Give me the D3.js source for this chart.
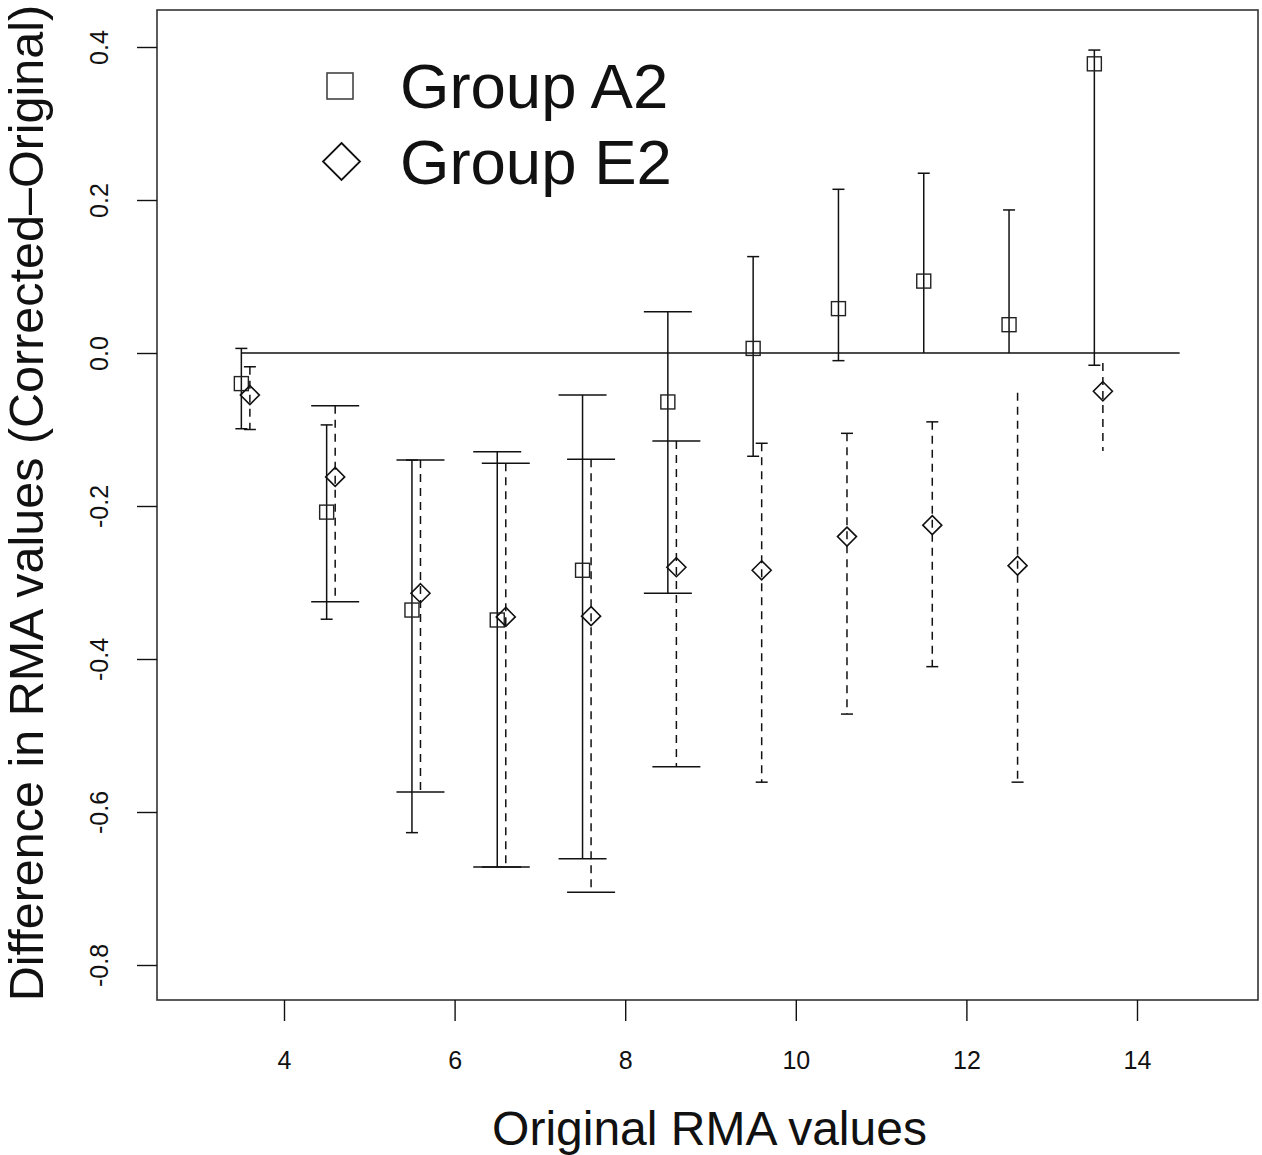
<!DOCTYPE html>
<html lang="en">
<head>
    <meta charset="UTF-8">
    <title>Difference in RMA values</title>
    <script src="https://d3js.org/d3.v7.min.js"></script>
    <style>
        body { margin: 0; background: #fff; }
        svg { font-family: "Liberation Sans", Arial, sans-serif; display: block; }
    </style>
</head>
<body>
    <div id="chart"></div>

    <script>
        // Group A2 (squares, solid bars)
        var xA2     = [3.5, 4.5, 5.5, 6.5, 7.5, 8.5, 9.5, 10.5, 11.5, 12.5, 13.5];
        var meanA2  = [-0.040, -0.208, -0.336, -0.349, -0.284, -0.064, 0.006, 0.058, 0.094, 0.037, 0.378];
        var upA2    = [0.006, -0.094, -0.140, -0.129, -0.055, 0.054, 0.126, 0.214, 0.235, 0.187, 0.396];
        var loA2    = [-0.099, -0.348, -0.627, -0.672, -0.661, -0.314, -0.135, -0.010, 0.000, 0.000, -0.016];
        // cap kind at each end: 0 none, 1 short, 2 long
        var capUpA2 = [1, 1, 1, 2, 2, 2, 1, 1, 1, 1, 1];
        var capLoA2 = [1, 1, 1, 2, 2, 2, 1, 1, 0, 0, 1];

        // Group E2 (diamonds, dashed bars)
        var xE2     = [3.6, 4.6, 5.6, 6.6, 7.6, 8.6, 9.6, 10.6, 11.6, 12.6, 13.6];
        var meanE2  = [-0.055, -0.162, -0.314, -0.345, -0.344, -0.280, -0.284, -0.240, -0.225, -0.278, -0.050];
        var upE2    = [-0.018, -0.069, -0.140, -0.144, -0.139, -0.115, -0.118, -0.105, -0.090, -0.052, -0.013];
        var loE2    = [-0.100, -0.325, -0.574, -0.672, -0.705, -0.541, -0.561, -0.472, -0.410, -0.561, -0.128];
        var capUpE2 = [1, 2, 2, 2, 2, 2, 1, 1, 1, 0, 0];
        var capLoE2 = [1, 2, 2, 2, 2, 2, 1, 1, 1, 1, 0];

        var xTicks = [4, 6, 8, 10, 12, 14];
        var yTicks = [0.4, 0.2, 0.0, -0.2, -0.4, -0.6, -0.8];
        var refLine = [3.5, 14.5];
        var legendLabels = ['Group A2', 'Group E2'];

        var W = 1262, H = 1155;
        var box = {left: 157, right: 1258, top: 10, bottom: 1000};
        var ink = '#111';

        var svg = d3.select('#chart').append('svg')
            .attr('width', W)
            .attr('height', H);

        var x = d3.scaleLinear().domain([4, 14]).range([284, 1137]);
        var y = d3.scaleLinear().domain([0.4, -0.8]).range([47, 965]);

        // plot frame
        svg.append('rect')
           .attr('x', box.left).attr('y', box.top)
           .attr('width', box.right - box.left)
           .attr('height', box.bottom - box.top)
           .attr('fill', 'none')
           .attr('stroke', '#333')
           .attr('stroke-width', 1.6);

        // x axis
        var xAxis = svg.append('g')
           .attr('transform', 'translate(0,' + box.bottom + ')')
           .call(d3.axisBottom(x).tickValues(xTicks).tickSize(21).tickPadding(30).tickFormat(d3.format('d')));
        xAxis.select('.domain').remove();
        xAxis.selectAll('line').attr('stroke', ink).attr('stroke-width', 1.4);
        xAxis.selectAll('text').attr('font-size', 25).attr('fill', ink)
             .attr('font-family', '"Liberation Sans", Arial, sans-serif');

        // y axis (labels rotated like R default)
        var yAxis = svg.append('g')
           .attr('transform', 'translate(' + box.left + ',0)')
           .call(d3.axisLeft(y).tickValues(yTicks).tickSize(20).tickFormat(d3.format('.1f')));
        yAxis.select('.domain').remove();
        yAxis.selectAll('line').attr('stroke', ink).attr('stroke-width', 1.4);
        yAxis.selectAll('text')
             .attr('font-size', 25).attr('fill', ink)
             .attr('font-family', '"Liberation Sans", Arial, sans-serif')
             .attr('x', null).attr('dy', null)
             .attr('text-anchor', 'middle')
             .attr('transform', 'translate(-49,0) rotate(-90)')
             .text(function(d) { return d3.format('.1f')(d).replace('\u2212', '-'); });

        // axis titles
        svg.append('text')
           .attr('x', (box.left + W) / 2).attr('y', 1145)
           .attr('text-anchor', 'middle')
           .attr('font-size', 48).attr('fill', ink)
           .text('Original RMA values');

        svg.append('text')
           .attr('transform', 'translate(43,' + ((box.top + box.bottom) / 2 - 2) + ') rotate(-90)')
           .attr('text-anchor', 'middle')
           .attr('font-size', 48.5).attr('fill', ink)
           .text('Difference in RMA values (Corrected\u2013Original)');

        // zero line
        svg.append('line')
           .attr('x1', x(refLine[0])).attr('x2', x(refLine[1]))
           .attr('y1', y(0)).attr('y2', y(0))
           .attr('stroke', ink).attr('stroke-width', 1.5);

        var capHalf = [0, 6, 24];

        function drawGroup(xs, means, ups, los, capUp, capLo, dash, shape) {
            var g = svg.append('g');
            var rows = xs.map(function(v, i) {
                return {x: v, m: means[i], u: ups[i], l: los[i], cu: capUp[i], cl: capLo[i]};
            });

            g.selectAll('line.bar')
             .data(rows)
             .enter().append('line')
             .attr('x1', d => x(d.x)).attr('x2', d => x(d.x))
             .attr('y1', d => y(d.u)).attr('y2', d => y(d.l))
             .attr('stroke', ink).attr('stroke-width', 1.5)
             .attr('stroke-dasharray', dash);

            // caps
            var caps = [];
            rows.forEach(function(d) {
                if (d.cu) caps.push({x: d.x, v: d.u, h: capHalf[d.cu]});
                if (d.cl) caps.push({x: d.x, v: d.l, h: capHalf[d.cl]});
            });
            g.selectAll('line.cap')
             .data(caps)
             .enter().append('line')
             .attr('x1', d => x(d.x) - d.h).attr('x2', d => x(d.x) + d.h)
             .attr('y1', d => y(d.v)).attr('y2', d => y(d.v))
             .attr('stroke', ink).attr('stroke-width', 1.5);

            if (shape === 'square') {
                g.selectAll('rect')
                 .data(rows)
                 .enter().append('rect')
                 .attr('x', d => x(d.x) - 7).attr('y', d => y(d.m) - 7)
                 .attr('width', 14).attr('height', 14)
                 .attr('fill', 'none').attr('stroke', '#222').attr('stroke-width', 1.4);
            } else {
                g.selectAll('path')
                 .data(rows)
                 .enter().append('path')
                 .attr('d', function(d) {
                     var cx = x(d.x), cy = y(d.m), r = 9.5;
                     return 'M' + cx + ',' + (cy - r) + 'L' + (cx + r) + ',' + cy +
                            'L' + cx + ',' + (cy + r) + 'L' + (cx - r) + ',' + cy + 'Z';
                 })
                 .attr('fill', 'none').attr('stroke', ink).attr('stroke-width', 1.6);
            }
        }

        drawGroup(xA2, meanA2, upA2, loA2, capUpA2, capLoA2, null, 'square');
        drawGroup(xE2, meanE2, upE2, loE2, capUpE2, capLoE2, '8,6', 'diamond');

        // legend
        var leg = svg.append('g');
        leg.append('rect')
           .attr('x', 327).attr('y', 73).attr('width', 26).attr('height', 26)
           .attr('fill', 'none').attr('stroke', '#444').attr('stroke-width', 1.6);
        leg.append('path')
           .attr('d', 'M341.5,143L360,161.5L341.5,180L323,161.5Z')
           .attr('fill', 'none').attr('stroke', ink).attr('stroke-width', 1.8);
        leg.selectAll('text')
           .data(legendLabels)
           .enter().append('text')
           .attr('x', 400)
           .attr('y', (d, i) => 108 + i * 76)
           .attr('font-size', 63.5).attr('fill', ink)
           .text(d => d);
    </script>
</body>
</html>
